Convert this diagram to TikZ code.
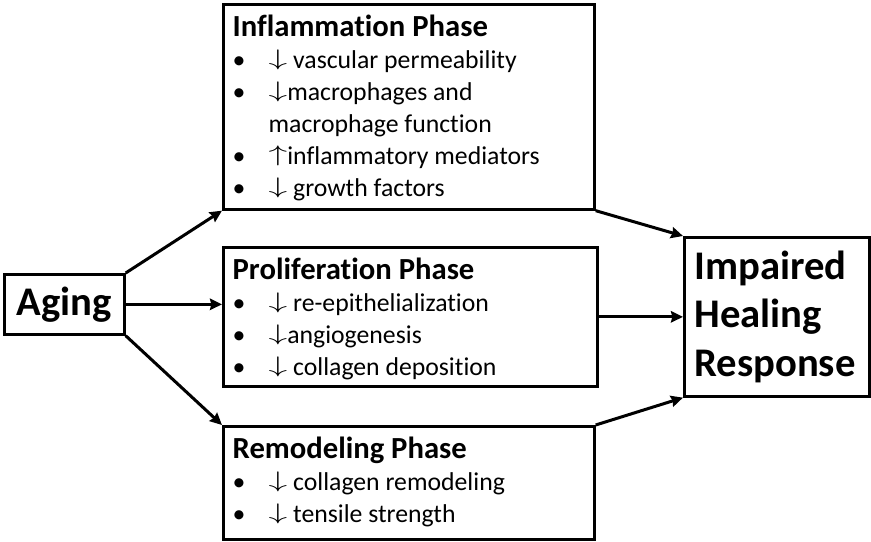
\documentclass[tikz,border=0pt]{standalone}
\usepackage{amsmath}
\usepackage{graphicx}
\usepackage{fontspec}
\setmainfont{Carlito}[Ligatures=NoCommon]
\usetikzlibrary{arrows.meta}
\newcommand{\dn}{\raisebox{1.8pt}{\resizebox*{14pt}{15pt}{$\downarrow$}}}
\newcommand{\up}{\raisebox{1.8pt}{\resizebox*{14pt}{15pt}{$\uparrow$}}}
\newcommand{\phaseitem}[1]{\makebox[27pt][l]{\textbullet}#1}
\newcommand{\phasetitle}[1]{\rule{0pt}{24pt}{\fontsize{23}{24}\selectfont\bfseries #1}}

\begin{document}
\begin{tikzpicture}[x=0.75pt,y=0.75pt,yscale=-1,xscale=1,
  phase/.style={draw, line width=2pt, anchor=north west, inner ysep=0pt, inner xsep=7pt, font=\fontsize{19.3}{24}\selectfont},
  bigbox/.style={draw, line width=2pt, anchor=north west, font=\fontsize{30.5}{36.5}\selectfont\bfseries},
  link/.style={line width=2.25pt, -{Stealth[length=9pt,width=8.5pt,inset=1pt]}}]
\useasboundingbox (0,0) rectangle (871,542);
\node [bigbox, inner sep=0pt, minimum width=90pt, minimum height=45pt] (aging) at (3,273) {Aging};
\node [bigbox, inner xsep=7.5pt, inner ysep=0pt, text width=123.75pt, minimum height=119.25pt, align=left] (impaired) at (683,236) {Impaired\\Healing\\Response};
\node [phase] (infl) at (222,3) {\parbox[c][153.75pt][t]{264.25pt}{\phasetitle{Inflammation Phase}\\
  \phaseitem{\dn\ vascular permeability}\\
  \phaseitem{\dn macrophages and}\\
  \hspace*{27pt}macrophage function\\
  \phaseitem{\up inflammatory mediators}\\
  \phaseitem{\dn\ growth factors}}};
\node [phase] (prolif) at (222,246) {\parbox[c][104.25pt][t]{266.5pt}{\phasetitle{Proliferation Phase}\\
  \phaseitem{\dn\ re-epithelialization}\\
  \phaseitem{\dn angiogenesis}\\
  \phaseitem{\dn\ collagen deposition}}};
\node [phase] (remod) at (222,425) {\parbox[c][84.75pt][t]{264.25pt}{\phasetitle{Remodeling Phase}\\
  \phaseitem{\dn\ collagen remodeling}\\
  \phaseitem{\dn\ tensile strength}}};
\draw [link] (aging.north east) -- (infl.south west);
\draw [link] (aging.east) -- (aging.east -| prolif.west);
\draw [link] (aging.south east) -- (remod.north west);
\draw [link] (infl.south east) -- (impaired.north west);
\draw [link] (prolif.east) -- (impaired.west);
\draw [link] (remod.north east) -- (impaired.south west);
\end{tikzpicture}
\end{document}
